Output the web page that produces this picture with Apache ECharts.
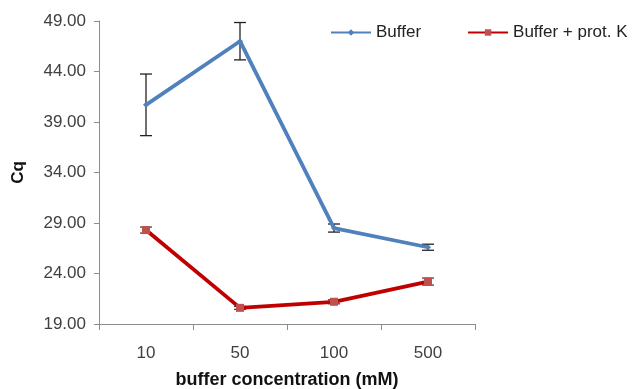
<!DOCTYPE html>
<html><head><meta charset="utf-8">
<script src="https://cdn.jsdelivr.net/npm/echarts@6/dist/echarts.min.js"></script>
<style>html,body{margin:0;padding:0;background:#fff}#c{width:635px;height:389px}</style>
</head><body><div id="c"></div>
<script>
const categories = ['10', '50', '100', '500'];
const bufferValues = [40.7, 47.0, 28.5, 26.6];
const bufferErrors = [3.05, 1.85, 0.4, 0.3];
const protKValues = [28.3, 20.6, 21.2, 23.2];
const protKErrors = [0.3, 0.15, 0.2, 0.35];
const yTicks = [19, 24, 29, 34, 39, 44, 49];

const font = "'Liberation Sans', Arial, sans-serif";
function errData(vals, errs) { return vals.map((v, i) => [i, v - errs[i], v + errs[i]]); }
function errSeries(vals, errs, color) {
  return {
    type: 'custom', silent: true, z: 1,
    data: errData(vals, errs),
    renderItem: function (params, api) {
      const x = api.value(0);
      const lo = api.coord([x, api.value(1)]);
      const hi = api.coord([x, api.value(2)]);
      const w = 6;
      const st = { stroke: color, lineWidth: 1.3 };
      return { type: 'group', children: [
        { type: 'line', shape: { x1: lo[0], y1: lo[1], x2: hi[0], y2: hi[1] }, style: st },
        { type: 'line', shape: { x1: lo[0] - w, y1: lo[1], x2: lo[0] + w, y2: lo[1] }, style: st },
        { type: 'line', shape: { x1: hi[0] - w, y1: hi[1], x2: hi[0] + w, y2: hi[1] }, style: st }
      ]};
    }
  };
}
const chart = echarts.init(document.getElementById('c'), null, { renderer: 'canvas' });
chart.setOption({
  animation: false,
  backgroundColor: '#fff',
  grid: { left: 99, right: 160, top: 21, bottom: 65, containLabel: false, outerBoundsMode: 'none' },
  legend: {
    top: 24, left: 330, width: 320, padding: 0, itemGap: 46, itemWidth: 40, itemHeight: 8,
    textStyle: { fontFamily: font, fontSize: 17, color: '#222' },
    data: ['Buffer', 'Buffer + prot. K']
  },
  xAxis: {
    type: 'category', data: categories, boundaryGap: true,
    name: 'buffer concentration (mM)', nameLocation: 'middle', nameGap: 47,
    nameTextStyle: { fontFamily: font, fontSize: 18, fontWeight: 'bold', color: '#111' },
    axisLine: { lineStyle: { color: '#8c8c8c', width: 1 } },
    axisTick: { show: true, length: 6, lineStyle: { color: '#8c8c8c' }, alignWithLabel: false },
    axisLabel: { fontFamily: font, fontSize: 17, color: '#404040', margin: 21 },
    splitLine: { show: false }
  },
  yAxis: {
    type: 'value', min: 19, max: 49, interval: 5,
    name: 'Cq', nameLocation: 'middle', nameGap: 72, nameRotate: 90,
    nameTextStyle: { fontFamily: font, fontSize: 17, fontWeight: 'bold', color: '#111' },
    axisLine: { show: true, lineStyle: { color: '#8c8c8c', width: 1 } },
    axisTick: { show: true, length: 5, lineStyle: { color: '#8c8c8c' } },
    axisLabel: { fontFamily: font, fontSize: 17, color: '#404040', margin: 13,
      formatter: v => yTicks.includes(v) ? v.toFixed(2) : '' },
    splitLine: { show: false }
  },
  series: [
    errSeries(bufferValues, bufferErrors, '#222'),
    errSeries(protKValues, protKErrors, '#444'),
    {
      name: 'Buffer', type: 'line', data: bufferValues, z: 3,
      lineStyle: { color: '#4F81BD', width: 3.8 },
      itemStyle: { color: '#4F81BD' },
      symbol: 'diamond', symbolSize: 6, showSymbol: true
    },
    {
      name: 'Buffer + prot. K', type: 'line', data: protKValues, z: 3,
      lineStyle: { color: '#C00000', width: 3.8 },
      itemStyle: { color: '#C0504D' },
      symbol: 'rect', symbolSize: 8, showSymbol: true
    }
  ]
});
</script></body></html>
